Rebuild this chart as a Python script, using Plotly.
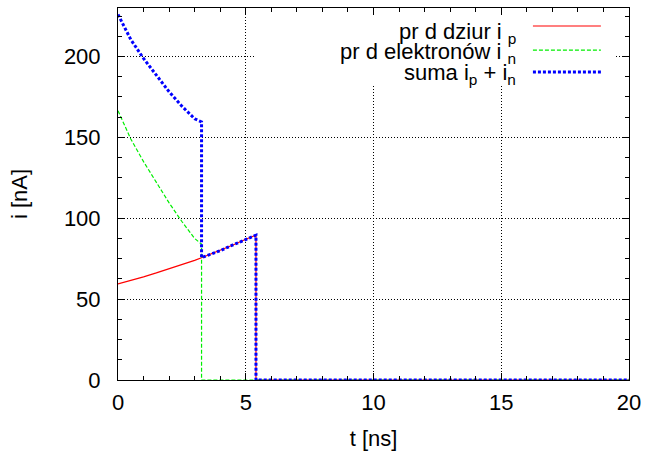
import plotly.graph_objects as go

# Data
t_p = [0, 0.5, 1, 1.5, 2, 2.5, 3, 3.27, 3.5, 4, 4.5, 5, 5.4, 5.4, 20]
i_p = [59.4, 61.5, 63.8, 66.2, 68.7, 71.3, 74.0, 75.6, 77.0, 80.0, 83.5, 87.0, 89.5, 0, 0]

t_n = [0, 0.5, 1, 1.5, 2, 2.5, 3, 3.27, 3.27, 20]
i_n = [166.5, 149.0, 135.0, 122.0, 109.5, 98.0, 87.5, 84.0, 0, 0]

t_s = [0, 0.5, 1, 1.5, 2, 2.5, 3, 3.27, 3.27, 3.5, 4, 4.5, 5, 5.4, 5.4, 20]
i_s = [226.0, 210.5, 198.8, 188.2, 178.2, 169.3, 161.5, 159.6, 75.6, 77.0, 80.0, 83.5, 87.0, 89.5, 0, 0]

names = ["pr d dziur i <sub>p</sub>", "pr d elektronów i <sub>n</sub>", "suma i<sub>p</sub> + i<sub>n</sub>"]
colors = ["#ff0000", "#00ee00", "#0000ff"]
dashes = ["solid", "4px,2px", "3px,2px"]
widths = [1.2, 1.2, 3]

FONT = "Liberation Sans, Arial, sans-serif"
FS = 22

fig = go.Figure()
for tx, ty, c, d, w in zip([t_p, t_n, t_s], [i_p, i_n, i_s], colors, dashes, widths):
    fig.add_trace(go.Scatter(x=tx, y=ty, mode="lines",
                             line=dict(color=c, dash=d, width=w),
                             showlegend=False))

# gnuplot-style key (opaque box over the grid, text right, sample to the right)
fig.add_shape(type="rect", xref="x", yref="y",
              x0=5.36, x1=19.45, y0=182, y1=230,
              fillcolor="white", line=dict(width=0), layer="between")
row_y = [0.934, 0.88, 0.822]
line_y = [0.9516, 0.887, 0.828]
for name, c, d, w, yy, ly in zip(names, colors, dashes, widths, row_y, line_y):
    fig.add_annotation(xref="paper", yref="paper", x=0.783, y=yy,
                       text=name, showarrow=False, xanchor="right", yanchor="middle",
                       font=dict(family=FONT, size=FS, color="black"))
    fig.add_shape(type="line", xref="paper", yref="paper",
                  x0=0.812, x1=0.945, y0=ly, y1=ly,
                  line=dict(color=c, dash=d, width=w))

axis_common = dict(showline=True, linecolor="black", linewidth=1, mirror="allticks",
                   ticks="inside", ticklen=7, tickcolor="black",
                   showgrid=True, gridcolor="black", griddash="1px,2px", gridwidth=1,
                   zeroline=False, automargin=False,
                   tickfont=dict(family=FONT, size=FS, color="black"))

fig.update_xaxes(range=[0, 20], dtick=5, tick0=0,
                 minor=dict(dtick=1, ticks="inside", ticklen=4, tickcolor="black", showgrid=False),
                 title=dict(text="t [ns]", font=dict(family=FONT, size=FS, color="black"), standoff=16),
                 ticklabelstandoff=3, **axis_common)
fig.update_yaxes(range=[0, 230], dtick=50, tick0=0,
                 minor=dict(dtick=12.5, ticks="inside", ticklen=4, tickcolor="black", showgrid=False),
                 title=dict(text="i [nA]", font=dict(family=FONT, size=FS, color="black"), standoff=30),
                 ticklabelstandoff=12, **axis_common)

fig.update_layout(width=645, height=454,
                  margin=dict(l=118, r=16, t=8, b=74),
                  plot_bgcolor="white", paper_bgcolor="white",
                  font=dict(family=FONT, size=FS, color="black"))

fig.write_html("out.html")
